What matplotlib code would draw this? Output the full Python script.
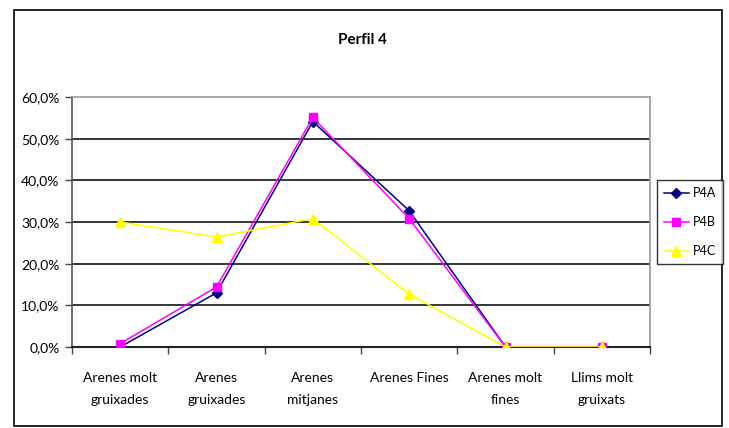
import matplotlib
matplotlib.use("Agg")
import matplotlib.pyplot as plt
from matplotlib.patches import Rectangle
import numpy as np
from matplotlib.ticker import FuncFormatter

categories = ["Arenes molt\ngruixades", "Arenes\ngruixades", "Arenes\nmitjanes",
              "Arenes Fines", "Arenes molt\nfines", "Llims molt\ngruixats"]
p4a = [0.0, 13.0, 54.1, 32.7, 0.0, 0.0]
p4b = [0.8, 14.4, 55.1, 30.8, 0.0, 0.0]
p4c = [30.0, 26.4, 30.8, 12.7, 0.0, 0.0]
yticks = [0, 10, 20, 30, 40, 50, 60]

plt.rcParams['font.family'] = ['Lato', 'DejaVu Sans']

fig = plt.figure(figsize=(7.29, 4.28), dpi=100)
fig.patches.append(Rectangle((14/729, 1-426/428), (722-14)/729, (426-9.5)/428,
                             transform=fig.transFigure, fill=False,
                             edgecolor='black', linewidth=1.2))

ax = fig.add_axes([72/729, 1-347/428, (650-72)/729, (347-97)/428])
x = np.arange(len(categories))

ax.plot(x, p4a, color='#000080', marker='D', markersize=5, linewidth=1.1, label='P4A', zorder=3)
ax.plot(x, p4b, color='#FF00FF', marker='s', markersize=6, linewidth=1.1, label='P4B', zorder=4)
ax.plot(x, p4c, color='#FFFF00', marker='^', markersize=6.5, linewidth=1.1, label='P4C', zorder=5)

ax.set_xlim(-0.5, len(categories) - 0.5)
ax.set_ylim(0, 60)
ax.set_yticks(yticks)
ax.yaxis.set_major_formatter(FuncFormatter(lambda v, p: f"{v:.1f}%".replace('.', ',')))
for v in yticks[1:-1]:
    ax.axhline(v, color='black', linewidth=1.1, zorder=1)

ax.set_xticks(np.arange(-0.5, len(categories), 1.0))
ax.set_xticklabels([])
ax.set_xticks(x, minor=True)
ax.set_xticklabels(categories, minor=True, fontsize=10, linespacing=2.0)
ax.tick_params(axis='x', which='minor', length=0, pad=18)
ax.tick_params(axis='x', which='major', length=5, width=1, color='#444444', direction='out')
ax.tick_params(axis='y', length=5, width=1, color='#444444', direction='out', labelsize=10, pad=4)

for s in ['top', 'right']:
    ax.spines[s].set_color('#999999')
    ax.spines[s].set_linewidth(1.2)
ax.spines['left'].set_color('#555555')
ax.spines['left'].set_linewidth(1.2)
ax.spines['bottom'].set_color('#222222')
ax.spines['bottom'].set_linewidth(1.5)

fig.text(362/729, 1-40/428, "Perfil 4", ha='center', va='center', fontsize=11, fontweight='bold')

leg = fig.legend(loc='center', bbox_to_anchor=(690/729, 1-222/428), frameon=True,
                 fancybox=False, edgecolor='black', fontsize=9, handlelength=2.0,
                 borderpad=0.55, labelspacing=1.35, handletextpad=0.3, borderaxespad=0)
leg.get_frame().set_linewidth(1.0)

fig.savefig("out.png", dpi=100)
